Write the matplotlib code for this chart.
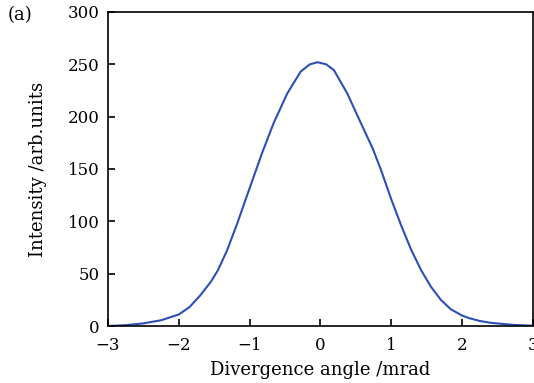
import numpy as np
import matplotlib
matplotlib.use('Agg')
import matplotlib.pyplot as plt

# ===================== data =====================
angle = [-3.0, -2.75, -2.5, -2.25, -2.0, -1.85, -1.70, -1.55, -1.45, -1.32,
         -1.18, -1.04, -0.92, -0.82, -0.66, -0.47, -0.28, -0.15, -0.04, 0.08,
         0.19, 0.38, 0.57, 0.735, 0.85, 1.0, 1.14, 1.28, 1.42, 1.56,
         1.70, 1.84, 2.0, 2.1, 2.25, 2.41, 2.74, 3.0]
intensity = [0.0, 0.8, 2.5, 5.5, 11, 18, 29, 42, 53, 72,
             97, 124, 147, 166, 194, 222, 243, 250, 252, 250,
             244.5, 222, 194, 170, 150, 121, 96, 73, 53.5, 37.5,
             25, 16, 10, 7.5, 4.8, 3, 1, 0.3]
xticks = [-3, -2, -1, 0, 1, 2, 3]
yticks = [0, 50, 100, 150, 200, 250, 300]

plt.rcParams['font.family'] = ['DejaVu Serif']
plt.rcParams['axes.unicode_minus'] = True

fig = plt.figure(figsize=(5.34, 3.83), dpi=100)
ax = fig.add_axes([0.2022, 0.1488, 0.7958, 0.8199])

ax.plot(angle, intensity, color='#2d4fb5', lw=1.5)

ax.set_xlim(-3, 3)
ax.set_ylim(0, 300)
ax.set_xticks(xticks)
ax.set_yticks(yticks)
ax.tick_params(direction='in', length=5, width=1.2, labelsize=12,
               top=False, right=False)
ax.tick_params(axis='x', pad=8)
ax.tick_params(axis='y', pad=6)
for s in ax.spines.values():
    s.set_linewidth(1.2)

ax.set_xlabel('Divergence angle /mrad', fontsize=13, labelpad=5)
ax.set_ylabel('Intensity /arb.units', fontsize=13, labelpad=15)
fig.text(0.015, 0.96, '(a)', fontsize=13, va='center', ha='left')

fig.savefig('out.png', dpi=100)
